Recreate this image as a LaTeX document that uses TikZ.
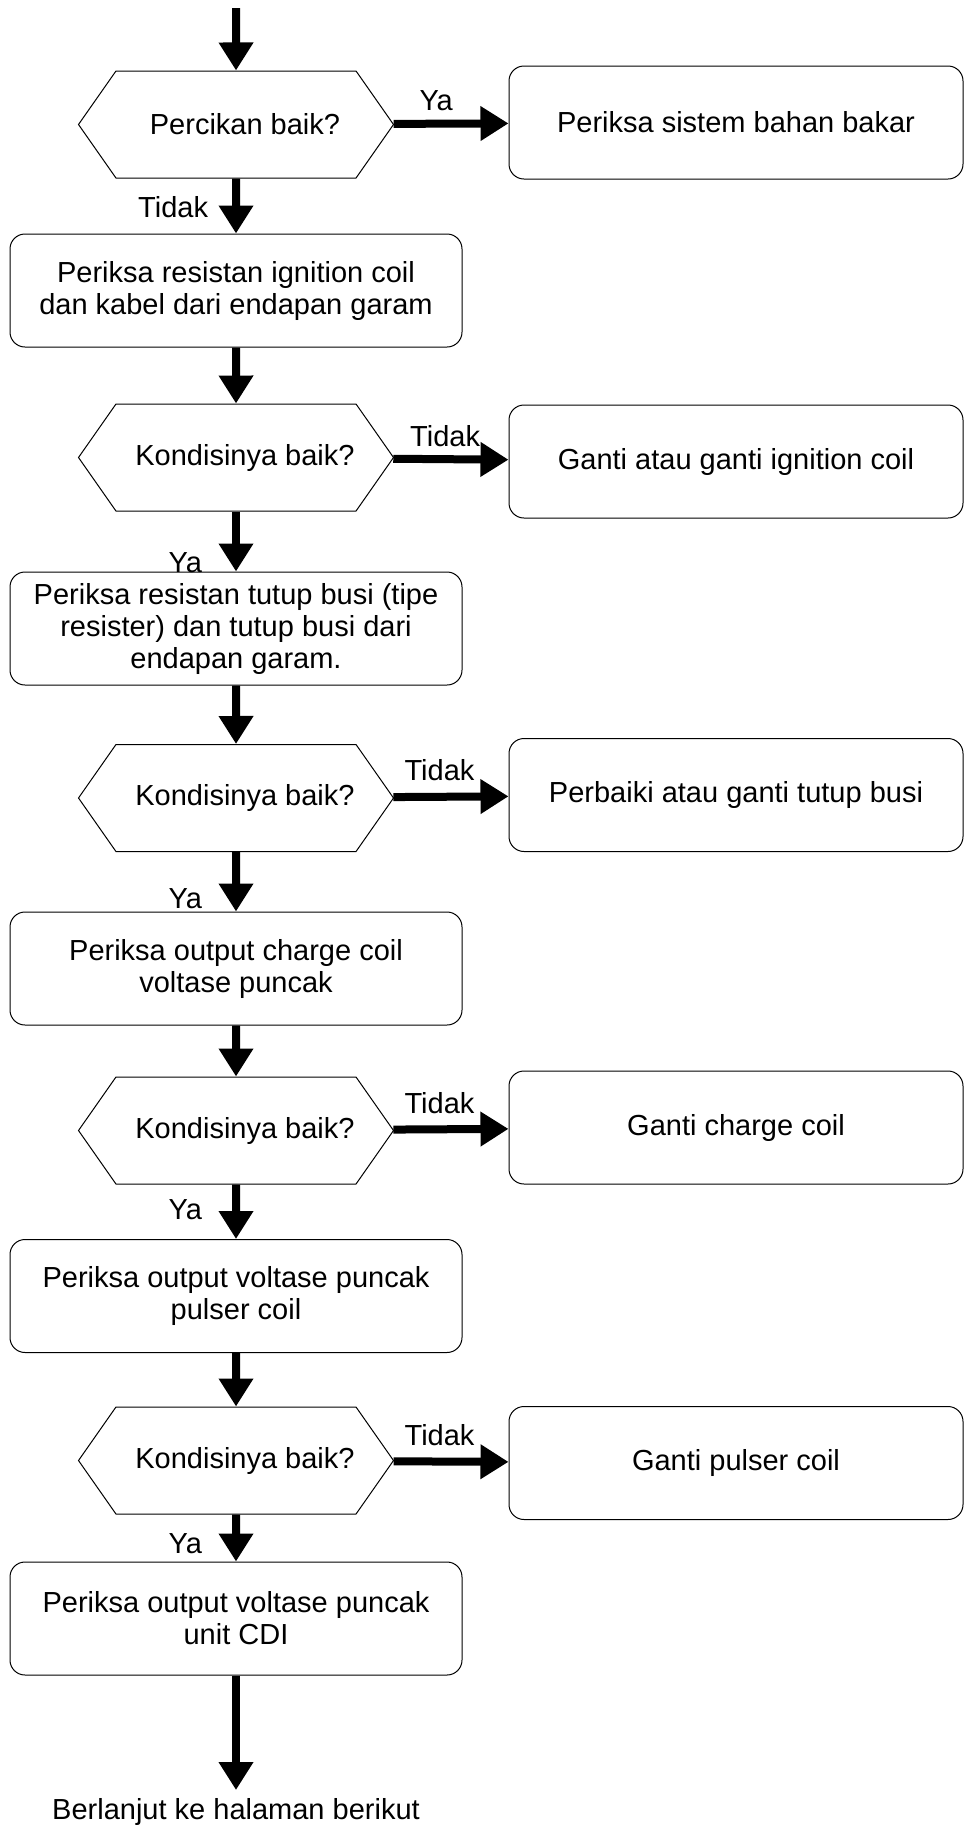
\documentclass[tikz,border=0pt]{standalone}
\usepackage{fontspec}
\setmainfont{Liberation Sans}
\usepackage{tikz}
\usetikzlibrary{arrows.meta,positioning,shapes.symbols}
\newcommand{\qtext}[1]{\hspace*{4.5pt}#1\hspace*{-4.5pt}}
\tikzset{
  step box/.style={rectangle,rounded corners=7.5pt,draw=black,line width=0.5pt,
    minimum width=226pt,minimum height=56.5pt,inner sep=2pt,align=center,
    font=\fontsize{14.5}{16}\selectfont},
  fix box/.style={step box,minimum width=227pt},
  decision/.style={signal,signal to=west and east,signal pointer angle=110,
    draw=black,line width=0.5pt,minimum width=157.5pt,minimum height=53.5pt,
    inner sep=2pt,font=\fontsize{14.5}{16}\selectfont},
  flow/.style={-{Triangle[length=14pt,width=16.5pt]},line width=4pt},
  flowlabel/.style={font=\fontsize{14.5}{16}\selectfont,inner sep=0pt}
}
\begin{document}
\begin{tikzpicture}[x=0.5pt,y=-0.5pt]
  \useasboundingbox (0,0) rectangle (964,1843);
  \coordinate (top) at (236,8);
  \node[decision] (q1) at (236,124.5) {\qtext{Percikan baik?}};
  \node[fix box] (r1) at (736,122.5) {Periksa sistem bahan bakar};
  \node[step box] (b1) at (236,290.5) {Periksa resistan ignition coil\\dan kabel dari endapan garam};
  \node[decision] (q2) at (236,457.5) {\qtext{Kondisinya baik?}};
  \node[fix box] (r2) at (736,461.5) {Ganti atau ganti ignition coil};
  \node[step box] (b2) at (236,628.5) {Periksa resistan tutup busi (tipe\\resister) dan tutup busi dari\\endapan garam.};
  \node[decision] (q3) at (236,798) {\qtext{Kondisinya baik?}};
  \node[fix box] (r3) at (736,795) {Perbaiki atau ganti tutup busi};
  \node[step box] (b3) at (236,968.5) {Periksa output charge coil\\voltase puncak};
  \node[decision] (q4) at (236,1130.5) {\qtext{Kondisinya baik?}};
  \node[fix box] (r4) at (736,1127.5) {Ganti charge coil};
  \node[step box] (b4) at (236,1296) {Periksa output voltase puncak\\pulser coil};
  \node[decision] (q5) at (236,1460.5) {\qtext{Kondisinya baik?}};
  \node[fix box] (r5) at (736,1463) {Ganti pulser coil};
  \node[step box] (b5) at (236,1618.5) {Periksa output voltase puncak\\unit CDI};
  \node[flowlabel,anchor=north,inner sep=4pt] (cont) at (236,1790) {Berlanjut ke halaman berikut};
  \draw[flow] (top) -- (q1);
  \draw[flow] (q1) -- node[flowlabel,above=4.5pt,pos=0.37] {Ya} (r1);
  \draw[flow] (q1) -- node[flowlabel,left=12pt,pos=0.52] {Tidak} (b1);
  \draw[flow] (b1) -- (q2);
  \draw[flow] (q2) -- node[flowlabel,above=4pt,pos=0.45] {Tidak} (r2);
  \draw[flow] (q2) -- node[flowlabel,left=15pt,pos=0.86] {Ya} (b2);
  \draw[flow] (b2) -- (q3);
  \draw[flow] (q3) -- node[flowlabel,above=6pt,pos=0.4] {Tidak} (r3);
  \draw[flow] (q3) -- node[flowlabel,left=15pt,pos=0.78] {Ya} (b3);
  \draw[flow] (b3) -- (q4);
  \draw[flow] (q4) -- node[flowlabel,above=6pt,pos=0.4] {Tidak} (r4);
  \draw[flow] (q4) -- node[flowlabel,left=15pt,pos=0.47] {Ya} (b4);
  \draw[flow] (b4) -- (q5);
  \draw[flow] (q5) -- node[flowlabel,above=6pt,pos=0.4] {Tidak} (r5);
  \draw[flow] (q5) -- node[flowlabel,left=15pt,pos=0.63] {Ya} (b5);
  \draw[flow] (b5) -- (cont);
\end{tikzpicture}
\end{document}
